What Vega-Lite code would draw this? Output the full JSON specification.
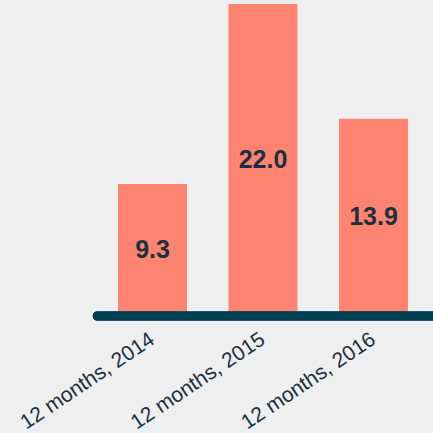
{
  "$schema": "https://vega.github.io/schema/vega-lite/v6.json",
  "width": 331.5,
  "height": 312,
  "autosize": {"type": "none"},
  "padding": {"left": 97.25, "top": 4, "right": 4.25, "bottom": 117},
  "background": "#efefef",
  "config": {"view": {"stroke": null}, "font": "Liberation Sans"},
  "data": {"values": [
    {"period": "12 months, 2014", "value": 9.3, "label": "9.3"},
    {"period": "12 months, 2015", "value": 22.0, "label": "22.0"},
    {"period": "12 months, 2016", "value": 13.9, "label": "13.9"}
  ]},
  "encoding": {
    "x": {"field": "period", "type": "nominal", "sort": null,
      "scale": {"paddingInner": 0.376, "paddingOuter": 0.188},
      "axis": {"title": null, "domain": false, "ticks": false, "labelAngle": -34, "labelAlign": "right", "labelBaseline": "top", "labelPadding": 12, "labelOffset": -6, "labelFontSize": 21, "labelColor": "#1b3142", "labelFont": "Liberation Sans"}}
  },
  "layer": [
    {
      "mark": {"type": "bar", "color": "#ff8371"},
      "encoding": {
        "y": {"field": "value", "type": "quantitative", "scale": {"domain": [0, 22], "nice": false, "zero": true}, "axis": null}
      }
    },
    {
      "mark": {"type": "rule", "color": "#003f52", "strokeWidth": 9, "strokeCap": "round"},
      "encoding": {
        "x": {"value": 0},
        "x2": {"value": 340},
        "y": {"datum": 0, "type": "quantitative", "scale": {"domain": [0, 22], "nice": false}, "axis": null}
      }
    },
    {
      "mark": {"type": "text", "fontWeight": "bold", "fontSize": 25, "color": "#1b3142", "baseline": "middle", "align": "center", "font": "Liberation Sans"},
      "encoding": {
        "y": {"field": "value", "type": "quantitative", "scale": {"domain": [0, 44], "nice": false}, "axis": null},
        "text": {"field": "label", "type": "nominal"}
      }
    }
  ],
  "resolve": {"scale": {"y": "independent"}}
}
